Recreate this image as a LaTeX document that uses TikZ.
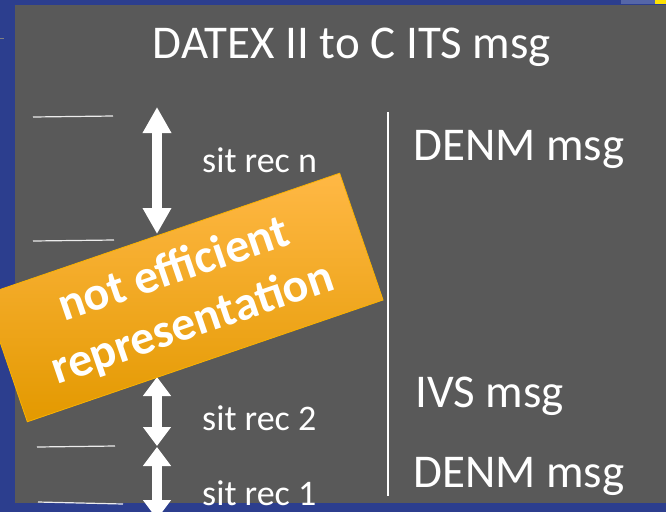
\documentclass[tikz,border=0pt]{standalone}
\usepackage{fontspec}
\setmainfont{Carlito}
\usetikzlibrary{arrows.meta}
\definecolor{slidegray}{HTML}{595959}
\definecolor{frameblue}{HTML}{2C3E8E}
\definecolor{paleblue}{HTML}{5566A8}
\definecolor{flagtop}{HTML}{FFB845}
\definecolor{flagmid}{HTML}{F9A900}
\definecolor{flagbot}{HTML}{E39900}
\begin{document}
\begin{tikzpicture}[x=1pt,y=-1pt,
  lbl/.style={text=white,inner sep=0pt,anchor=base west},
  tick/.style={draw=white!85!gray,line width=1.2pt},
  bigarrow/.style={white,line width=10pt,{Triangle[length=26pt,width=27pt]}-{Triangle[length=26pt,width=27pt]}},
  recarrow/.style={white,line width=10pt,{Triangle[length=19pt,width=27pt]}-{Triangle[length=19pt,width=27pt]}}]
\useasboundingbox (0,0) rectangle (666,512);
\clip (0,0) rectangle (666,512);
% frame and slide
\fill[frameblue] (0,0) rectangle (666,512);
\fill[paleblue] (621,0) rectangle (655,4);
\fill[yellow!85!orange] (655,0) rectangle (666,4);
\fill[slidegray] (15,5) rectangle (666,503);
\draw[gray,line width=1pt] (0,38)--(4,38);
% titles
\node[text=white,inner sep=0pt,anchor=base,font=\fontsize{47}{56}\selectfont] (title) at (352,58) {DATEX II to C ITS msg};
\draw[white,line width=1.2pt] (388,112)--(388,496);
\node[lbl,font=\fontsize{47}{56}\selectfont] (denmn) at (413,160) {DENM msg};
\node[lbl,font=\fontsize{47}{56}\selectfont] (ivs) at (415,407) {IVS msg};
\node[lbl,font=\fontsize{47}{56}\selectfont] (denm1) at (413,487) {DENM msg};
% record limits
\draw[tick] (33,117)--(113,116);
\draw[tick] (33,241)--(114,240);
\draw[tick] (37,447)--(115,446);
\draw[tick] (38,502)--(123,504);
\coordinate (n top) at (157,107);
\coordinate (n bot) at (157,234);
\coordinate (r2 top) at (157,377);
\coordinate (r2 bot) at (157,446);
\coordinate (r1 top) at (157,447);
\coordinate (r1 bot) at (157,519);
\draw[bigarrow] (n top)--(n bot);
\draw[recarrow] (r2 top)--(r2 bot);
\draw[recarrow] (r1 top)--(r1 bot);
\node[lbl,font=\fontsize{36}{43}\selectfont] (recn) at (202,172) {sit rec n};
\node[lbl,font=\fontsize{36}{43}\selectfont] (rec2) at (202,430) {sit rec 2};
\node[lbl,font=\fontsize{36}{43}\selectfont] (rec1) at (202,505) {sit rec 1};
% banner
\node[rotate=18.9,minimum width=376pt,minimum height=134pt,inner sep=0pt,
  top color=flagtop,middle color=flagmid,bottom color=flagbot,draw=flagmid!90!yellow,line width=0.8pt,
  text=white,align=center,font=\fontsize{48}{57}\selectfont\bfseries] (flag) at (183.5,297.5) {not efficient\\representation};
\end{tikzpicture}
\end{document}
